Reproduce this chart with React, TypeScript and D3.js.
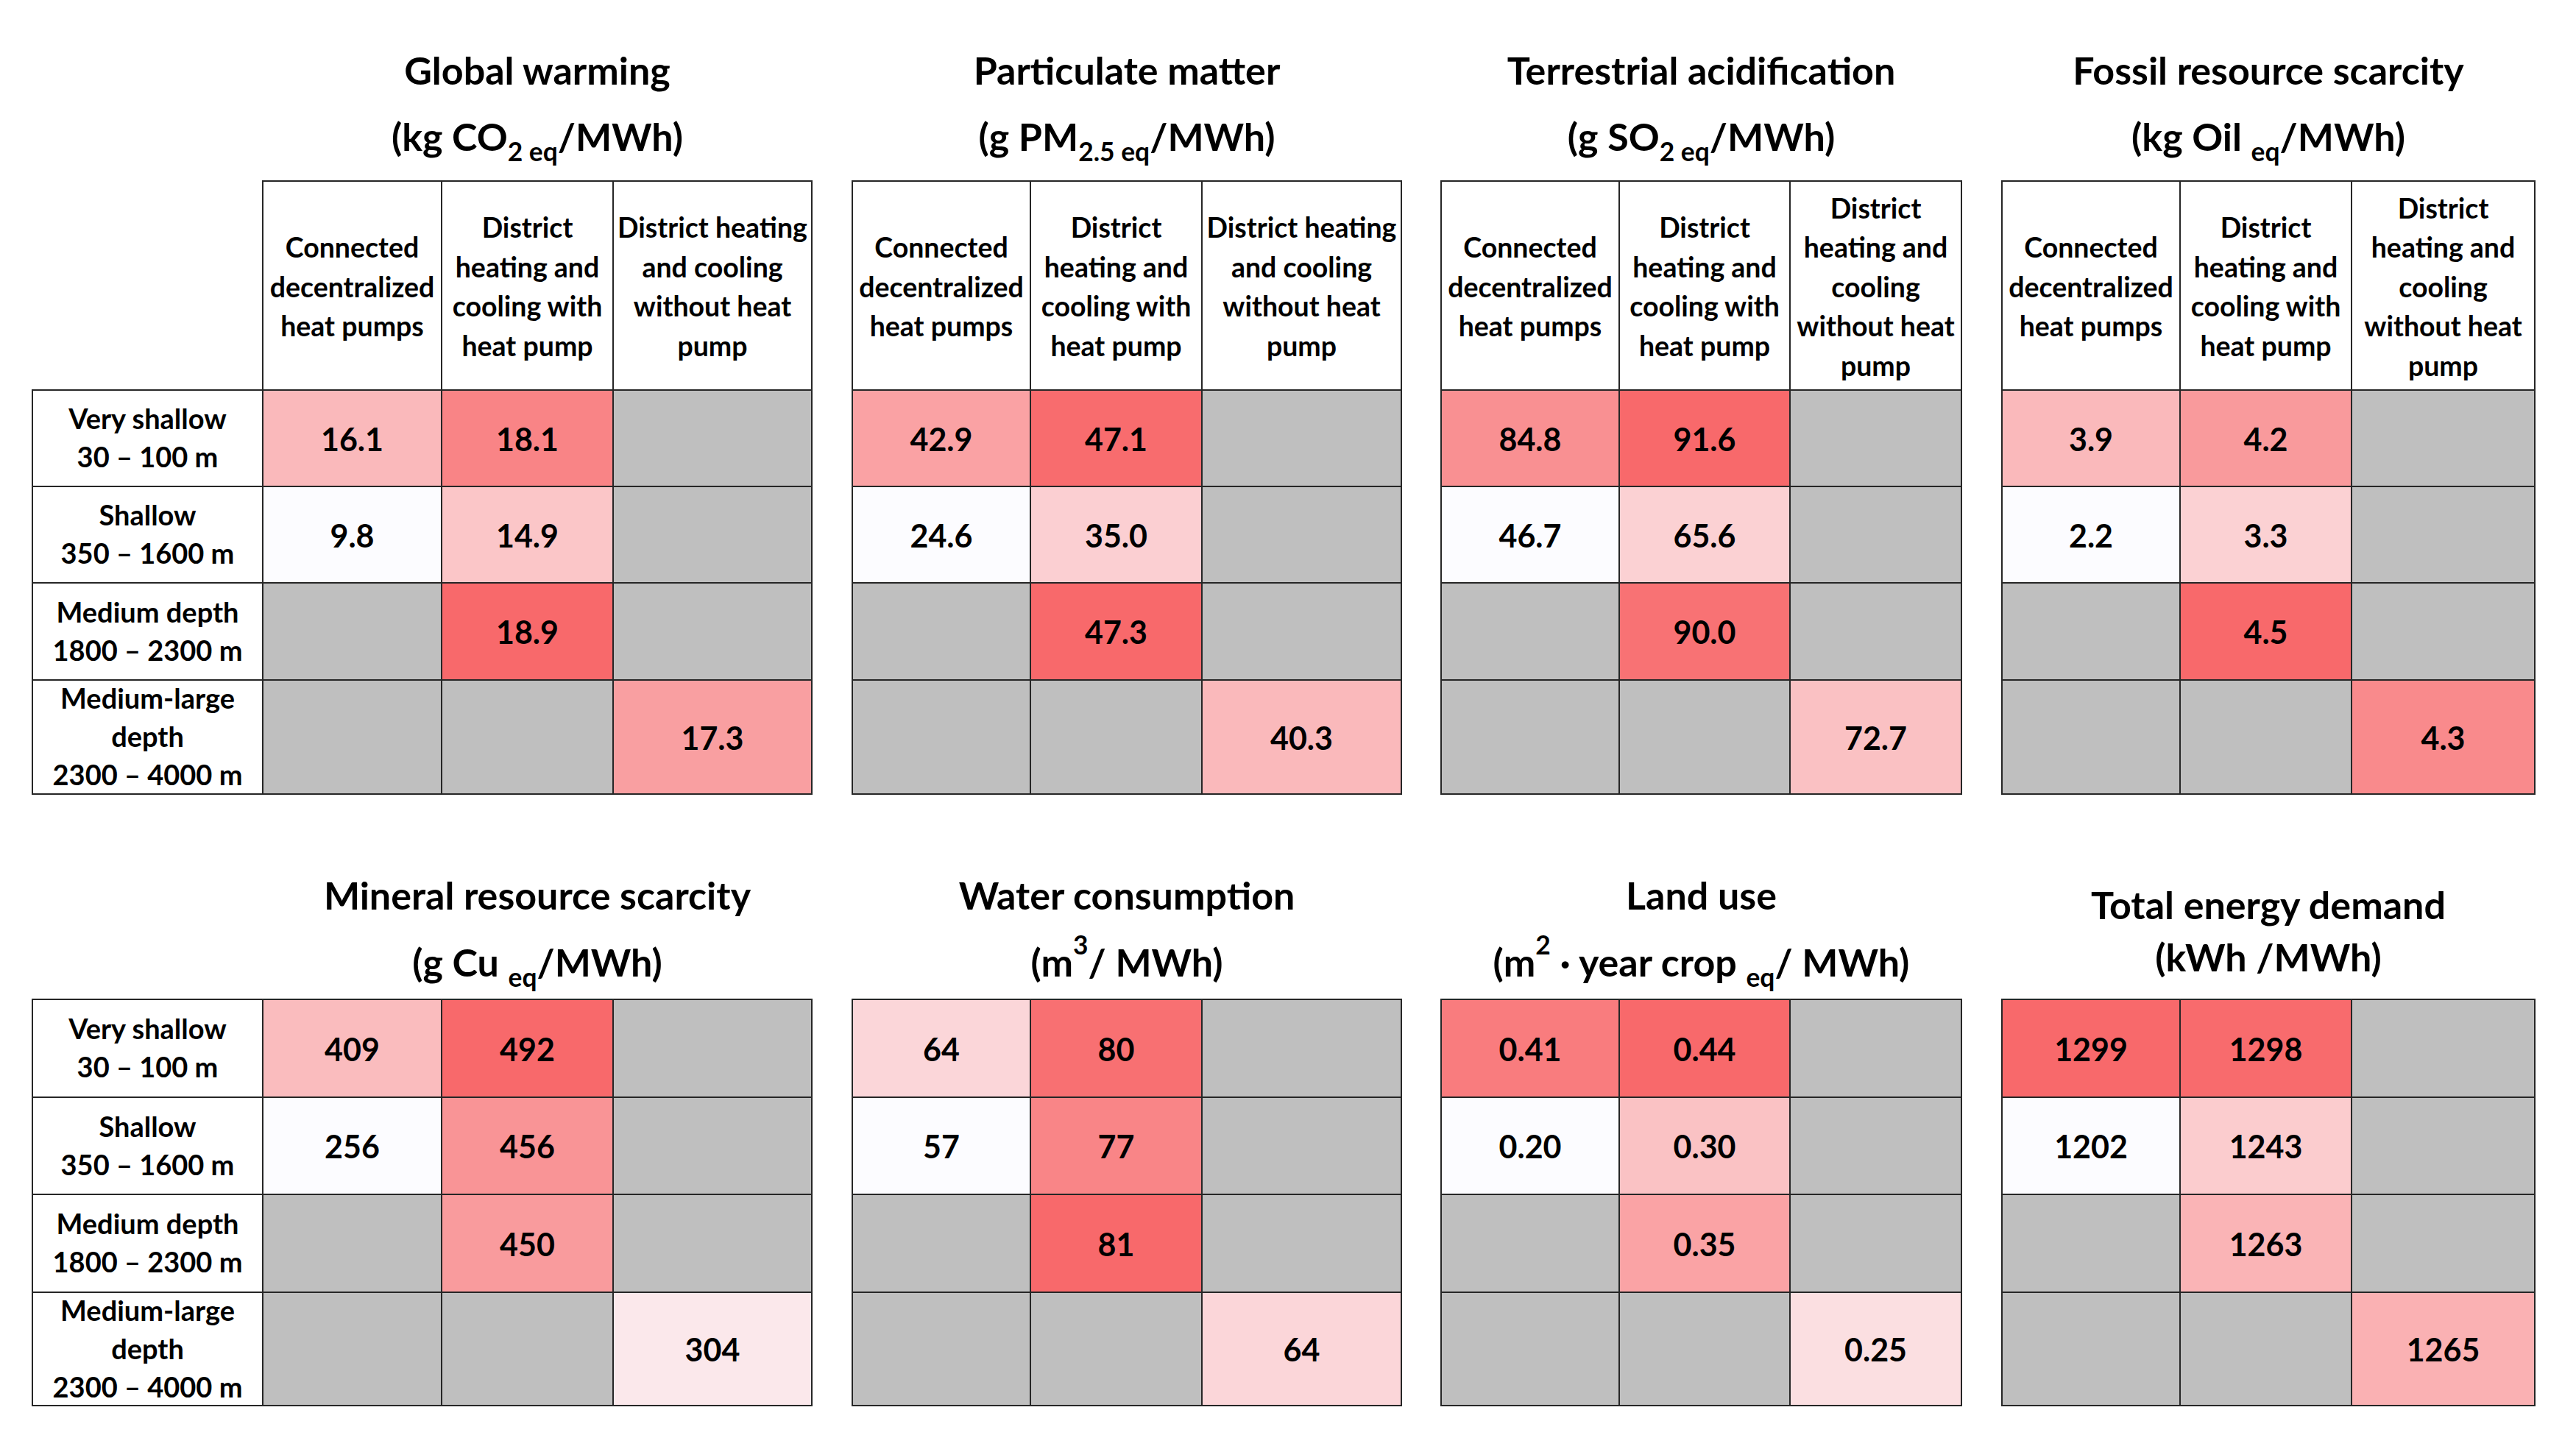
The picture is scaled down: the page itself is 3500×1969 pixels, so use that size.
import React from 'react';
import * as d3 from 'd3';

// ---------- DATA ----------
const rowLabels: string[][] = [
  ['Very shallow', '30 – 100 m'],
  ['Shallow', '350 – 1600 m'],
  ['Medium depth', '1800 – 2300 m'],
  ['Medium-large', 'depth', '2300 – 4000 m'],
];
const headersWide: string[][] = [
  ['Connected', 'decentralized', 'heat pumps'],
  ['District', 'heating and', 'cooling with', 'heat pump'],
  ['District heating', 'and cooling', 'without heat', 'pump'],
];
const headersNarrow: string[][] = [
  ['Connected', 'decentralized', 'heat pumps'],
  ['District', 'heating and', 'cooling with', 'heat pump'],
  ['District', 'heating and', 'cooling', 'without heat', 'pump'],
];

const globalWarming = [[16.1, 18.1, null], [9.8, 14.9, null], [null, 18.9, null], [null, null, 17.3]];
const particulateMatter = [[42.9, 47.1, null], [24.6, 35.0, null], [null, 47.3, null], [null, null, 40.3]];
const terrestrialAcidification = [[84.8, 91.6, null], [46.7, 65.6, null], [null, 90.0, null], [null, null, 72.7]];
const fossilResourceScarcity = [[3.9, 4.2, null], [2.2, 3.3, null], [null, 4.5, null], [null, null, 4.3]];
const mineralResourceScarcity = [[409, 492, null], [256, 456, null], [null, 450, null], [null, null, 304]];
const waterConsumption = [[64, 80, null], [57, 77, null], [null, 81, null], [null, null, 64]];
const landUse = [[0.41, 0.44, null], [0.20, 0.30, null], [null, 0.35, null], [null, null, 0.25]];
const totalEnergyDemand = [[1299, 1298, null], [1202, 1243, null], [null, 1263, null], [null, null, 1265]];

const titles = [
  'Global warming', 'Particulate matter', 'Terrestrial acidification', 'Fossil resource scarcity',
  'Mineral resource scarcity', 'Water consumption', 'Land use', 'Total energy demand',
];
const decimals = [1, 1, 1, 1, 0, 0, 2, 0];

type Seg = { t: string; k?: 'sub' | 'sup' };
const unitLabels: Seg[][] = [
  [{ t: '(kg CO' }, { t: '2', k: 'sub' }, { t: ' eq', k: 'sub' }, { t: '/MWh)' }],
  [{ t: '(g PM' }, { t: '2.5', k: 'sub' }, { t: ' eq', k: 'sub' }, { t: '/MWh)' }],
  [{ t: '(g SO' }, { t: '2', k: 'sub' }, { t: ' eq', k: 'sub' }, { t: '/MWh)' }],
  [{ t: '(kg Oil ' }, { t: 'eq', k: 'sub' }, { t: '/MWh)' }],
  [{ t: '(g Cu ' }, { t: 'eq', k: 'sub' }, { t: '/MWh)' }],
  [{ t: '(m' }, { t: '3', k: 'sup' }, { t: '/ MWh)' }],
  [{ t: '(m' }, { t: '2', k: 'sup' }, { t: ' · year crop ' }, { t: 'eq', k: 'sub' }, { t: '/ MWh)' }],
  [{ t: '(kWh /MWh)' }],
];

const panelValues = [
  globalWarming, particulateMatter, terrestrialAcidification, fossilResourceScarcity,
  mineralResourceScarcity, waterConsumption, landUse, totalEnergyDemand,
];

// ---------- LAYOUT ----------
const W = 3500;
const H = 1969;
const FONT = "Lato, 'Open Sans', sans-serif";
const SX = 1;
const COLS = [
  [357, 600, 833, 1103],
  [1158, 1400, 1633, 1904],
  [1958, 2200, 2432, 2665],
  [2720, 2962, 3195, 3444],
];
const LABEL_X0 = 44;
const TOP = { headerTop: 246, rows: [530, 661, 792, 924, 1079], titleY: 115, unitY: 205 };
const BOT = { rows: [1358, 1491, 1623, 1756, 1910], titleY: 1236, unitY: 1327 };
const TITLE_SIZE = 52;
const HEADER_SIZE = 37.5;
const LABEL_SIZE = 38;
const VALUE_SIZE = 43;
const STROKE = '#262626';
const GRAY = '#BFBFBF';
const LOW = '#FCFCFF';
const HIGH = '#F8696B';

function Lines({ x, y, lines, size, spacing }: { x: number; y: number; lines: string[]; size: number; spacing: number }) {
  const n = lines.length;
  return (
    <g>
      {lines.map((l, i) => (
        <text
          key={i}
          transform={`translate(${x},${y + (i - (n - 1) / 2) * spacing}) scale(${SX},1)`}
          textAnchor="middle"
          dy="0.36em"
          fontSize={size}
          style={{ whiteSpace: 'pre' }}
        >
          {l}
        </text>
      ))}
    </g>
  );
}

function RichText({ x, y, segs, size }: { x: number; y: number; segs: Seg[]; size: number }) {
  let shift = 0;
  const items = segs.map((s, i) => {
    const target = s.k === 'sub' ? size * 0.26 : s.k === 'sup' ? -size * 0.58 : 0;
    const dy = target - shift;
    shift = target;
    return (
      <tspan key={i} dy={dy} fontSize={s.k ? size * 0.68 : size}>
        {s.t}
      </tspan>
    );
  });
  return (
    <text transform={`translate(${x},${y}) scale(${SX},1)`} textAnchor="middle" style={{ whiteSpace: 'pre' }}>
      {items}
    </text>
  );
}

function Panel({ index }: { index: number }) {
  const isTop = index < 4;
  const lay = isTop ? TOP : BOT;
  const cols = COLS[index % 4];
  const values = panelValues[index];
  const flat = values.flat().filter((v): v is number => v != null);
  const mn = d3.min(flat) as number;
  const md = d3.median(flat) as number;
  const mx = d3.max(flat) as number;
  const mid = d3.interpolateRgb(LOW, HIGH)(0.5);
  const color = d3.scaleLinear<string>().domain([mn, md, mx]).range([LOW, mid, HIGH]).interpolate(d3.interpolateRgb).clamp(true);
  const fmt = d3.format(`.${decimals[index]}f`);
  const cx = (cols[0] + cols[3]) / 2;
  let titleY = lay.titleY;
  let unitY = lay.unitY;
  if (index === 7) {
    titleY = 1249;
    unitY = 1320;
  }
  const headers = index % 4 >= 2 ? headersNarrow : headersWide;

  return (
    <g>
      <text x={cx} y={titleY} textAnchor="middle" fontSize={TITLE_SIZE}>
        {titles[index]}
      </text>
      <RichText x={cx} y={unitY} segs={unitLabels[index]} size={TITLE_SIZE} />

      {isTop &&
        headers.map((lines, j) => (
          <g key={`h${j}`}>
            <rect x={cols[j]} y={TOP.headerTop} width={cols[j + 1] - cols[j]} height={lay.rows[0] - TOP.headerTop} fill="#fff" stroke={STROKE} strokeWidth={2} />
            <Lines x={(cols[j] + cols[j + 1]) / 2} y={(TOP.headerTop + lay.rows[0]) / 2 + 2} lines={lines} size={HEADER_SIZE} spacing={53.5} />
          </g>
        ))}

      {index % 4 === 0 &&
        rowLabels.map((lines, r) => (
          <g key={`l${r}`}>
            <rect x={LABEL_X0} y={lay.rows[r]} width={cols[0] - LABEL_X0} height={lay.rows[r + 1] - lay.rows[r]} fill="#fff" stroke={STROKE} strokeWidth={2} />
            <Lines x={(LABEL_X0 + cols[0]) / 2} y={(lay.rows[r] + lay.rows[r + 1]) / 2} lines={lines} size={LABEL_SIZE} spacing={52} />
          </g>
        ))}

      {values.map((row, r) =>
        row.map((v, j) => {
          const x0 = cols[j];
          const x1 = cols[j + 1];
          const y0 = lay.rows[r];
          const y1 = lay.rows[r + 1];
          return (
            <g key={`c${r}-${j}`}>
              <rect x={x0} y={y0} width={x1 - x0} height={y1 - y0} fill={v == null ? GRAY : color(v)} stroke={STROKE} strokeWidth={2} />
              {v != null && (
                <Lines x={(x0 + x1) / 2} y={(y0 + y1) / 2 + 2} lines={[fmt(v)]} size={VALUE_SIZE} spacing={0} />
              )}
            </g>
          );
        })
      )}
    </g>
  );
}

export default function App() {
  return (
    <svg
      width={W}
      height={H}
      viewBox={`0 0 ${W} ${H}`}
      style={{ position: 'absolute', left: 0, top: 0, background: '#fff' }}
      fontFamily={FONT}
      fontWeight="bold"
      fill="#000"
    >
      <rect x={0} y={0} width={W} height={H} fill="#fff" />
      {d3.range(8).map((i) => (
        <Panel key={i} index={i} />
      ))}
    </svg>
  );
}
